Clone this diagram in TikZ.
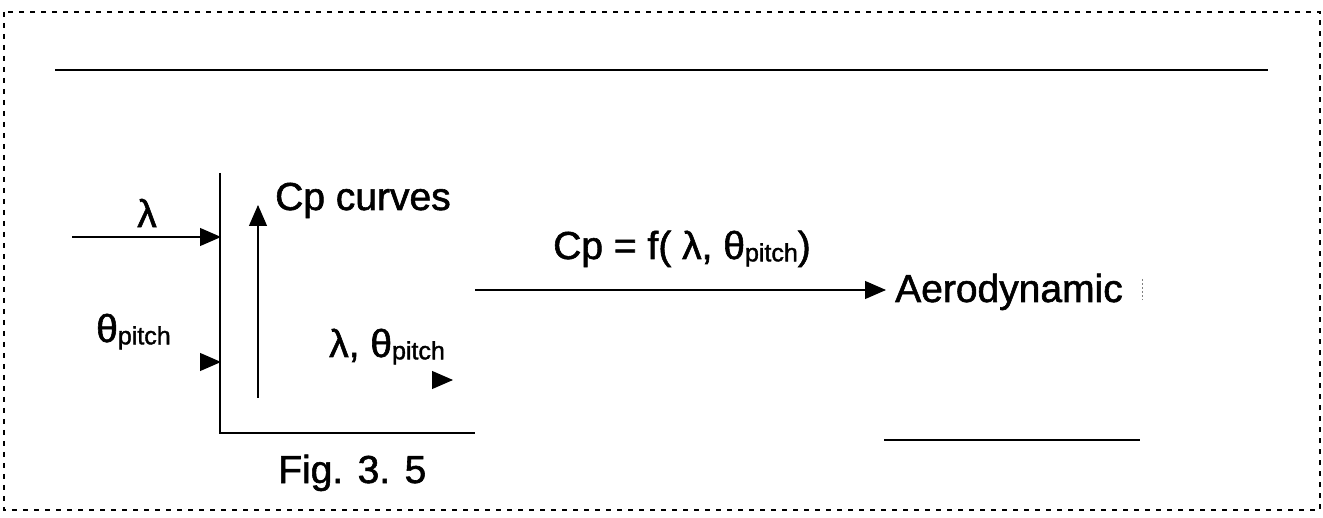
\documentclass[tikz,border=0pt]{standalone}
\usepackage{fontspec}
\setmainfont{Liberation Sans}
\newfontface\heavyface{Liberation Sans}[FakeBold=1.5]
\usetikzlibrary{arrows.meta}
\newcommand\pitchsub{\raisebox{-0.06em}{\fontsize{25}{25}\selectfont pitch}}
\tikzset{
  frame/.style={line width=1.6pt, dash pattern=on 5pt off 6pt},
  thin/.style={line width=1.1pt},
  arr/.style={thin, -{Triangle[length=21pt,width=18pt]}},
  txt/.style={inner sep=0pt, font=\heavyface\fontsize{39}{41}\selectfont},
}
\begin{document}
\begin{tikzpicture}[x=1pt,y=-1pt]
\useasboundingbox (0,0) rectangle (1323,518);
\draw[frame] (4,12) rectangle (1320,510);
% lines
\coordinate (tl1) at (55,70); \coordinate (tl2) at (1268,70);
\draw[thin] (tl1) -- (tl2);
\coordinate (br1) at (884,440); \coordinate (br2) at (1140,440);
\draw[thin] (br1) -- (br2);
% box axes
\coordinate (bxt) at (220,173); \coordinate (bxc) at (220,433); \coordinate (bxr) at (475,433);
\draw[thin] (bxt) -- (bxc) -- (bxr);
% inputs
\coordinate (lamin) at (72,237); \coordinate (lamend) at (221,237);
\draw[arr] (lamin) -- (lamend);
\coordinate (thin1) at (201,362); \coordinate (thend) at (221,362);
\draw[arr] (thin1) -- (thend);
\coordinate (vb) at (258,398); \coordinate (vt) at (258,205);
\draw[arr] (vb) -- (vt);
\coordinate (ra1) at (432,380); \coordinate (ra2) at (453,380);
\draw[arr] (ra1) -- (ra2);
% main arrow
\coordinate (m1) at (475,290);
\node[txt, anchor=base west] (aero) at (895,302) {Aerodynamic};
\draw[arr, shorten >=9pt] (m1) -- (aero.west |- m1);
\coordinate (d1) at (1142,279); \coordinate (d2) at (1142,300);
\draw[line width=0.6pt, dash pattern=on 2pt off 2pt, gray] (d1) -- (d2);
% labels
\node[txt] (lam) at (147,213) {λ};
\node[txt, anchor=base west] (cpc) at (275,210) {Cp curves};
\node[txt, anchor=base west] (thl) at (96,342) {θ\pitchsub};
\node[txt, anchor=base west] (lth) at (329,357) {λ, θ\pitchsub};
\node[txt, anchor=base west] (cpf) at (553,259) {Cp = f( λ, θ\pitchsub)};
\node[txt, anchor=base west] (fig) at (278,483) {Fig. 3. 5};
\end{tikzpicture}
\end{document}
